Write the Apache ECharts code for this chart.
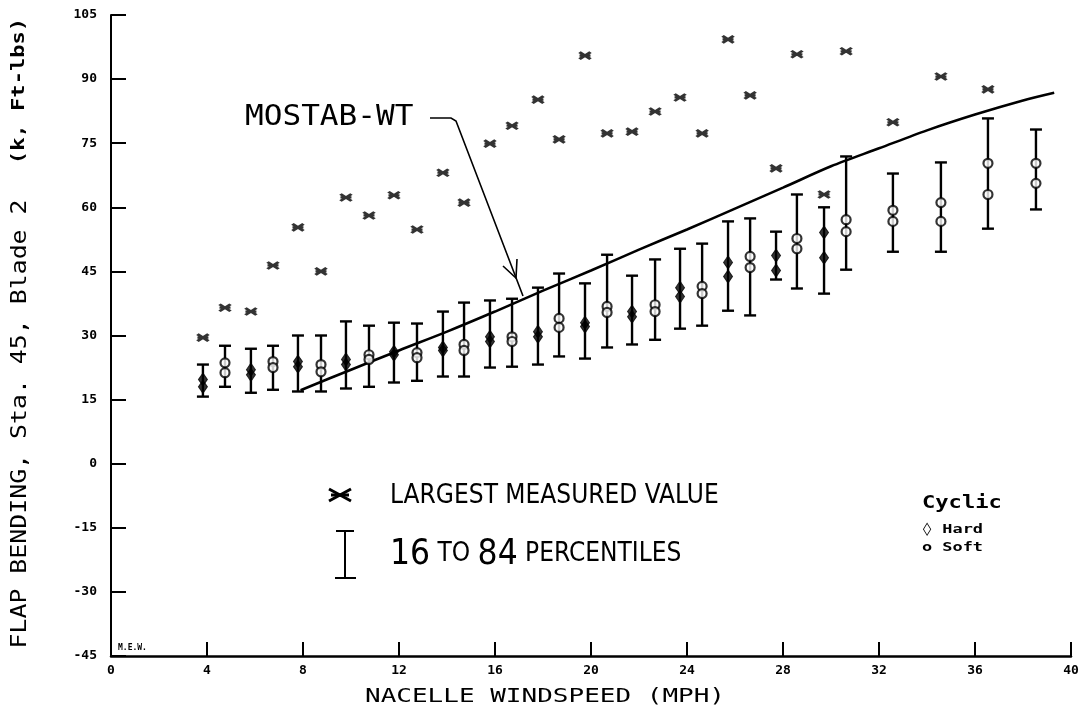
<!DOCTYPE html>
<html>
<head>
<meta charset="utf-8">
<script src="https://cdn.jsdelivr.net/npm/echarts@6/dist/echarts.min.js"></script>
<style>
html,body{margin:0;padding:0;background:#fff;}
#c{width:1083px;height:711px;}
</style>
</head>
<body>
<div id="c"></div>
<script>
// ---------- DATA ----------
const xTickLabels = ['0','4','8','12','16','20','24','28','32','36','40'];
const yTickLabels = ['-45','-30','-15','0','15','30','45','60','75','90','105'];

// Hard cyclic bins: windspeed, 16th pct, 84th pct, two plotted markers, largest measured
const hardX   = [3.83, 5.83, 7.79, 9.79, 11.79, 13.83, 15.79, 17.79, 19.75, 21.71, 23.71, 25.71, 27.71, 29.71];
const hardLo  = [15.7, 16.6, 16.9, 17.6, 19.0, 20.4, 22.5, 23.2, 24.6, 27.9, 31.6, 35.8, 43.1, 39.8];
const hardHi  = [23.2, 26.9, 30.0, 33.3, 33.0, 35.6, 38.2, 41.2, 42.2, 44.0, 50.3, 56.7, 54.3, 60.0];
const hardA   = [19.7, 22.0, 23.9, 24.4, 26.2, 27.2, 29.7, 30.9, 33.0, 35.6, 41.2, 47.1, 48.7, 54.1];
const hardB   = [18.0, 20.8, 22.7, 23.2, 25.5, 26.5, 28.6, 29.7, 32.1, 34.4, 39.1, 43.8, 45.2, 48.2];
const hardMax = [29.5, 35.6, 55.3, 62.3, 62.8, 68.1, 74.9, 85.2, 95.5, 77.7, 85.7, 99.3, 69.1, 63.0];

// Soft cyclic bins
const softX   = [4.75, 6.75, 8.75, 10.75, 12.75, 14.71, 16.71, 18.67, 20.67, 22.67, 24.63, 26.63, 28.58, 30.63, 32.58, 34.58, 36.54, 38.54];
const softLo  = [18.0, 17.3, 16.9, 18.0, 19.4, 20.4, 22.7, 25.1, 27.2, 29.0, 32.3, 34.7, 41.0, 45.4, 49.6, 49.6, 55.0, 59.5];
const softHi  = [27.6, 27.6, 30.0, 32.3, 32.8, 37.7, 38.6, 44.5, 48.9, 47.8, 51.5, 57.4, 63.0, 71.9, 67.9, 70.5, 80.8, 78.2];
const softA   = [23.6, 23.9, 23.2, 25.5, 26.0, 27.9, 29.7, 34.0, 36.8, 37.2, 41.5, 48.5, 52.7, 57.1, 59.3, 61.1, 70.3, 70.3];
const softB   = [21.3, 22.5, 21.5, 24.4, 24.8, 26.5, 28.6, 31.9, 35.4, 35.6, 39.8, 45.9, 50.3, 54.3, 56.7, 56.7, 63.0, 65.6];
const softMax = [36.5, 46.4, 45.0, 58.1, 54.8, 61.1, 79.1, 75.9, 77.3, 82.4, 77.3, 86.2, 95.8, 96.5, 79.9, 90.6, 87.6, null];

// MOSTAB-WT prediction
const mostabX = [7.9, 10, 12, 14, 16, 18, 20, 22, 24, 26, 28, 30, 32, 34, 36, 38, 39.3];
const mostabY = [17.2, 22.0, 26.5, 30.9, 35.6, 40.5, 45.2, 50.1, 54.8, 59.7, 64.6, 69.6, 73.8, 78.0, 81.7, 85.0, 86.8];

// ---------- CHART ----------
const chart = echarts.init(document.getElementById('c'));
const MONO = "'DejaVu Sans Mono', 'Liberation Mono', monospace";
const COND = "'DejaVu Sans Condensed', 'Liberation Sans Narrow', sans-serif";

function renderErr(params, api) {
  const x = api.value(0), lo = api.value(1), hi = api.value(2);
  const pLo = api.coord([x, lo]), pHi = api.coord([x, hi]);
  const hw = 6;
  const style = { stroke: '#000', lineWidth: 2.4, fill: null };
  return {
    type: 'group',
    children: [
      { type: 'line', shape: { x1: pLo[0], y1: pLo[1], x2: pHi[0], y2: pHi[1] }, style: style },
      { type: 'line', shape: { x1: pLo[0] - hw, y1: pLo[1], x2: pLo[0] + hw, y2: pLo[1] }, style: style },
      { type: 'line', shape: { x1: pHi[0] - hw, y1: pHi[1], x2: pHi[0] + hw, y2: pHi[1] }, style: style }
    ]
  };
}

const hardErr = hardX.map((x, i) => [x, hardLo[i], hardHi[i]]);
const softErr = softX.map((x, i) => [x, softLo[i], softHi[i]]);
const hardPts = hardX.map((x, i) => [x, hardA[i]]).concat(hardX.map((x, i) => [x, hardB[i]]));
const softPts = softX.map((x, i) => [x, softA[i]]).concat(softX.map((x, i) => [x, softB[i]]));
const maxPts = hardX.map((x, i) => [x, hardMax[i]])
  .concat(softX.map((x, i) => [x, softMax[i]]))
  .filter(p => p[1] !== null);
const mostab = mostabX.map((x, i) => [x, mostabY[i]]);

const STAR = 'path://M0,0L12,8M12,0L0,8M0,4L12,4';
const axisLineStyle = { color: '#000', width: 2 };

function seg(points, w) {
  return { type: 'polyline', shape: { points: points }, style: { stroke: '#000', lineWidth: w, fill: null } };
}

chart.setOption({
  animation: false,
  backgroundColor: '#fff',
  grid: { left: 111, right: 12, top: 15, bottom: 55 },
  xAxis: {
    type: 'value', min: 0, max: 40, interval: 4,
    axisLine: { show: true, onZero: false, lineStyle: { color: '#000', width: 2.5 } },
    axisTick: { show: true, inside: true, length: 14, lineStyle: axisLineStyle },
    axisLabel: {
      margin: 8, color: '#000', fontFamily: MONO, fontWeight: 'bold', fontSize: 13,
      formatter: v => xTickLabels[Math.round(v / 4)]
    },
    splitLine: { show: false }
  },
  yAxis: {
    type: 'value', min: -45, max: 105, interval: 15,
    axisLine: { show: true, onZero: false, lineStyle: axisLineStyle },
    axisTick: { show: true, inside: true, length: 15, lineStyle: axisLineStyle },
    axisLabel: {
      margin: 14, color: '#000', fontFamily: MONO, fontWeight: 'bold', fontSize: 13,
      formatter: v => yTickLabels[Math.round((v + 45) / 15)]
    },
    splitLine: { show: false }
  },
  series: [
    { name: 'Hard 16-84', type: 'custom', renderItem: renderErr, data: hardErr, encode: { x: 0, y: [1, 2] }, z: 2, silent: true },
    { name: 'Soft 16-84', type: 'custom', renderItem: renderErr, data: softErr, encode: { x: 0, y: [1, 2] }, z: 2, silent: true },
    {
      name: 'MOSTAB-WT', type: 'line', data: mostab, smooth: 0.3, showSymbol: false, symbol: 'none',
      lineStyle: { color: '#000', width: 2.6 }, z: 3, silent: true
    },
    {
      name: 'Hard', type: 'scatter', data: hardPts, symbol: 'diamond', symbolSize: [9, 13],
      itemStyle: { color: '#000', borderColor: '#000', borderWidth: 1 }, z: 4, silent: true
    },
    {
      name: 'Soft', type: 'scatter', data: softPts, symbol: 'circle', symbolSize: 9,
      itemStyle: { color: '#fff', borderColor: '#000', borderWidth: 2.2 }, z: 4, silent: true
    },
    {
      name: 'Largest measured value', type: 'scatter', data: maxPts, symbol: STAR, symbolSize: [11, 7],
      itemStyle: { color: 'none', borderColor: '#000', borderWidth: 2.8 }, z: 4, silent: true
    }
  ],
  graphic: [
    // Y axis title
    { type: 'text', x: 20, y: 424, rotation: Math.PI / 2, scaleX: 1.13,
      style: { text: 'FLAP BENDING, Sta. 45, Blade 2', fill: '#000', font: "22px " + MONO, textAlign: 'center', textVerticalAlign: 'middle' } },
    { type: 'text', x: 20, y: 91, rotation: Math.PI / 2, scaleX: 1.3,
      style: { text: '(k, Ft-lbs)', fill: '#000', font: "bold 17px " + MONO, textAlign: 'center', textVerticalAlign: 'middle' } },
    // X axis title
    { type: 'text', x: 545, y: 697, scaleX: 1.3,
      style: { text: 'NACELLE WINDSPEED (MPH)', fill: '#000', font: "20px " + MONO, textAlign: 'center', textVerticalAlign: 'middle' } },
    // corner tag
    { type: 'text', x: 118, y: 648,
      style: { text: 'M.E.W.', fill: '#000', font: "bold 8px " + MONO, textAlign: 'left', textVerticalAlign: 'middle' } },
    // MOSTAB-WT annotation
    { type: 'text', x: 245, y: 118, scaleX: 1.11,
      style: { text: 'MOSTAB-WT', fill: '#000', font: "28px " + MONO, textAlign: 'left', textVerticalAlign: 'middle' } },
    seg([[430, 118], [451, 118], [456, 121], [523, 296]], 1.6),
    seg([[503, 266], [516, 278], [517, 259]], 1.6),
    // Legend: largest measured value
    seg([[329, 489], [351, 501]], 3),
    seg([[329, 501], [351, 489]], 3),
    seg([[331, 495], [349, 495]], 3),
    { type: 'text', x: 390, y: 496,
      style: { text: 'LARGEST MEASURED VALUE', fill: '#000', font: "26px " + COND, textAlign: 'left', textVerticalAlign: 'middle' } },
    // Legend: percentile bar
    seg([[345, 531], [345, 578]], 2),
    seg([[336, 531], [354, 531]], 2),
    seg([[335, 578], [356, 578]], 2),
    { type: 'text', x: 390, y: 572,
      style: {
        text: '{b|16} TO {b|84} PERCENTILES', fill: '#000', font: "26px " + COND, textAlign: 'left', textVerticalAlign: 'bottom',
        rich: { b: { fontSize: 35, fontFamily: COND, fill: '#000' } }
      } },
    // Cyclic legend
    { type: 'text', x: 922, y: 504, scaleX: 1.3,
      style: { text: 'Cyclic', fill: '#000', font: "bold 17px " + MONO, textAlign: 'left', textVerticalAlign: 'middle' } },
    { type: 'text', x: 922, y: 530, scaleX: 1.3,
      style: { text: '◊ Hard', fill: '#000', font: "bold 13px " + MONO, textAlign: 'left', textVerticalAlign: 'middle' } },
    { type: 'text', x: 922, y: 548, scaleX: 1.3,
      style: { text: 'o Soft', fill: '#000', font: "bold 13px " + MONO, textAlign: 'left', textVerticalAlign: 'middle' } }
  ]
});
</script>
</body>
</html>
